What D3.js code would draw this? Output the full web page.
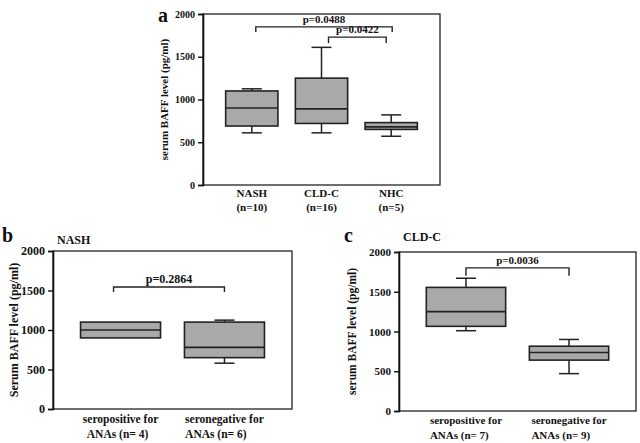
<!DOCTYPE html>
<html><head><meta charset="utf-8">
<script src="https://cdn.jsdelivr.net/npm/d3@7"></script>
<style>body{margin:0;background:#fff}svg text{font-family:"Liberation Serif","Times New Roman",serif;font-weight:bold;fill:#111}</style>
</head><body><svg id="c" width="640" height="443"></svg>
<script>
// Panel a
const groupsA = ["NASH", "CLD-C", "NHC"];
const nA = ["(n=10)", "(n=16)", "(n=5)"];
const minA = [610, 610, 570];
const q1A = [690, 720, 650];
const medA = [900, 890, 680];
const q3A = [1100, 1250, 730];
const maxA = [1125, 1610, 820];
const bracketsA = [{from:0, to:2, y:1850, leg:1790, text:"p=0.0488"}, {from:1, to:2, y:1730, leg:1660, text:"p=0.0422"}];
// Panel b
const groupsB = ["seropositive for", "seronegative for"];
const nB = ["ANAs (n= 4)", "ANAs (n= 6)"];
const minB = [900, 580];
const q1B = [900, 650];
const medB = [1000, 780];
const q3B = [1100, 1100];
const maxB = [1100, 1125];
const bracketsB = [{from:0, to:1, y:1545, leg:1480, text:"p=0.2864"}];
// Panel c
const groupsC = ["seropositive for", "seronegative for"];
const nC = ["ANAs (n= 7)", "ANAs (n= 9)"];
const minC = [1010, 470];
const q1C = [1065, 640];
const medC = [1250, 735];
const q3C = [1555, 815];
const maxC = [1670, 900];
const bracketsC = [{from:0, to:1, y:1800, leg:1700, text:"p=0.0036"}];
const yTicks = [0, 500, 1000, 1500, 2000];

const svg = d3.select("#c");

function panel(o) {
  const g = svg.append("g");
  const x = d3.scalePoint().domain(d3.range(o.groups.length)).range([o.l, o.r]).padding(o.pad);
  const y = d3.scaleLinear().domain([0, 2000]).range([o.b, o.t]);
  // frame
  g.append("rect").attr("x", o.l).attr("y", o.t).attr("width", o.r - o.l).attr("height", o.b - o.t)
    .attr("fill", "none").attr("stroke", "#222").attr("stroke-width", 1.3);
  // y axis
  const ax = g.append("g").attr("transform", `translate(${o.l},0)`)
    .call(d3.axisLeft(y).tickValues(yTicks).tickSize(5).tickPadding(3).tickFormat(d3.format("d")));
  ax.select(".domain").attr("stroke", "#111").attr("stroke-width", 1.6);
  ax.selectAll(".tick line").attr("stroke", "#111").attr("stroke-width", 1.4);
  ax.selectAll("text").attr("font-size", o.tickFs).attr("font-family", null).style("fill", "#111");
  // y label
  g.append("text").attr("transform", `translate(${o.ylx},${(o.t + o.b) / 2}) rotate(-90)`)
    .attr("text-anchor", "middle").attr("font-size", o.ylFs).text(o.ylabel);
  const bw = x.step() * o.bwFrac;
  const cap = o.cap;
  o.groups.forEach((name, i) => {
    const cx = x(i);
    const bg = g.append("g");
    // whiskers
    bg.append("line").attr("x1", cx).attr("x2", cx).attr("y1", y(o.max[i])).attr("y2", y(o.q3[i])).attr("stroke", "#222").attr("stroke-width", 1.5);
    bg.append("line").attr("x1", cx).attr("x2", cx).attr("y1", y(o.q1[i])).attr("y2", y(o.min[i])).attr("stroke", "#222").attr("stroke-width", 1.5);
    if (o.max[i] > o.q3[i]) bg.append("line").attr("x1", cx - cap).attr("x2", cx + cap).attr("y1", y(o.max[i])).attr("y2", y(o.max[i])).attr("stroke", "#222").attr("stroke-width", 1.5);
    if (o.min[i] < o.q1[i]) bg.append("line").attr("x1", cx - cap).attr("x2", cx + cap).attr("y1", y(o.min[i])).attr("y2", y(o.min[i])).attr("stroke", "#222").attr("stroke-width", 1.5);
    bg.append("rect").attr("x", cx - bw / 2).attr("width", bw).attr("y", y(o.q3[i])).attr("height", y(o.q1[i]) - y(o.q3[i]))
      .attr("fill", "#a9a9a9").attr("stroke", "#222").attr("stroke-width", 1.6);
    bg.append("line").attr("x1", cx - bw / 2).attr("x2", cx + bw / 2).attr("y1", y(o.med[i])).attr("y2", y(o.med[i])).attr("stroke", "#222").attr("stroke-width", 1.6);
    // x labels
    if (o.center) {
      g.append("text").attr("x", cx).attr("y", o.b + o.xl1).attr("text-anchor", "middle").attr("font-size", o.xFs).text(name);
      g.append("text").attr("x", cx).attr("y", o.b + o.xl2).attr("text-anchor", "middle").attr("font-size", o.xFs).text(o.ns[i]);
    } else {
      const t1 = g.append("text").attr("x", cx).attr("y", o.b + o.xl1).attr("text-anchor", "middle").attr("font-size", o.xFs).text(name);
      const w = t1.node().getComputedTextLength();
      g.append("text").attr("x", cx - w / 2 + o.l2off[i]).attr("y", o.b + o.xl2).attr("font-size", o.xFs).text(o.ns[i]);
    }
  });
  // brackets
  o.brackets.forEach((br, k) => {
    const x1 = x(br.from) + (o.bOff[k] ? o.bOff[k][0] : 0), x2 = x(br.to) + (o.bOff[k] ? o.bOff[k][1] : 0);
    g.append("path").attr("d", `M${x1},${y(br.leg)}V${y(br.y)}H${x2}V${y(br.leg)}`)
      .attr("fill", "none").attr("stroke", "#222").attr("stroke-width", 1.4);
    g.append("text").attr("x", (x1 + x2) / 2).attr("y", y(br.y) - 4).attr("text-anchor", "middle").attr("font-size", o.pFs).text(br.text);
  });
  g.append("text").attr("x", o.letter[0]).attr("y", o.letter[1]).attr("font-size", 20).text(o.letter[2]);
  if (o.title) g.append("text").attr("x", o.title[0]).attr("y", o.title[1]).attr("font-size", o.title[3]).text(o.title[2]);
}

panel({groups: groupsA, ns: nA, min: minA, q1: q1A, med: medA, q3: q3A, max: maxA, brackets: bracketsA,
  l: 203, r: 440, t: 14, b: 185, pad: 0.7, bwFrac: 0.75, cap: 10, tickFs: 10, ylFs: 11, ylx: 168,
  ylabel: "serum BAFF level (pg/ml)", xFs: 11, xl1: 12, xl2: 26, center: true, pFs: 11,
  bOff: [[4, 1], [7, -5]], letter: [158, 22, "a"]});
panel({groups: groupsB, ns: nB, min: minB, q1: q1B, med: medB, q3: q3B, max: maxB, brackets: bracketsB,
  l: 53, r: 292, t: 251, b: 409, pad: 0.65, bwFrac: 0.77, cap: 10, tickFs: 12, ylFs: 12, ylx: 18,
  ylabel: "Serum BAFF level (pg/ml)", xFs: 11.5, xl1: 14, xl2: 29, center: false, l2off: [4, 0], pFs: 12,
  bOff: [[-7, 0]], letter: [2, 242, "b"], title: [57, 244, "NASH", 12]});
panel({groups: groupsC, ns: nC, min: minC, q1: q1C, med: medC, q3: q3C, max: maxC, brackets: bracketsC,
  l: 399, r: 636, t: 252, b: 411, pad: 0.65, bwFrac: 0.77, cap: 10, tickFs: 11, ylFs: 11.5, ylx: 356,
  ylabel: "serum BAFF level (pg/ml)", xFs: 11, xl1: 13, xl2: 28, center: false, l2off: [0, 0], pFs: 11,
  bOff: [[0, 0]], letter: [344, 242, "c"], title: [403, 241, "CLD-C", 12]});
</script></body></html>
